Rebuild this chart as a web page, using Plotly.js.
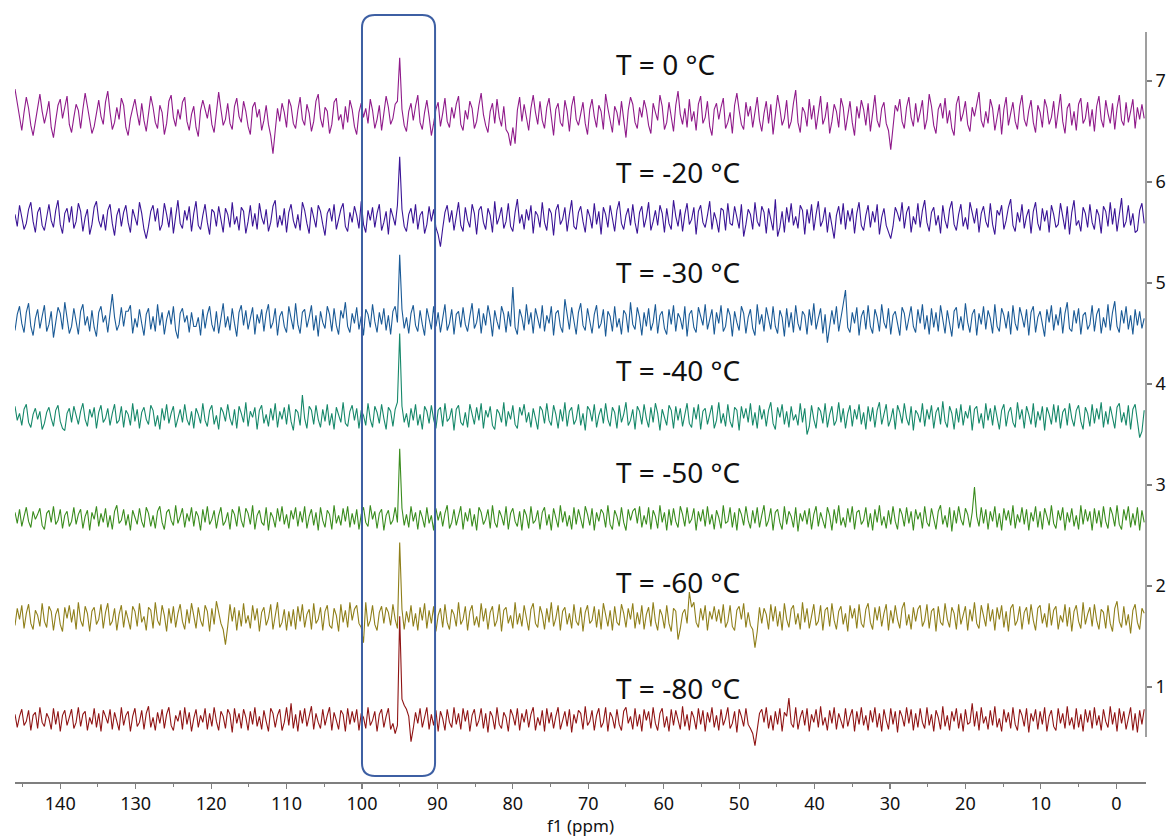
<!DOCTYPE html>
<html>
<head>
<meta charset="utf-8">
<script src="https://cdn.plot.ly/plotly-3.0.1.min.js"></script>
<style>html,body{margin:0;padding:0;background:#fff;}#chart{width:1168px;height:837px;}</style>
</head>
<body>
<div id="chart"></div>
<script>
// Chemical-shift grid (ppm): first point and step
const ppmStart = 146.0;
const ppmStep = -0.3;

// Temperature labels, stacking offsets and colours
const labels = ["T = 0 °C", "T = -20 °C", "T = -30 °C", "T = -40 °C", "T = -50 °C", "T = -60 °C", "T = -80 °C"];
const offsets = [6.66, 5.64, 4.63, 3.68, 2.67, 1.69, 0.68];
const labelY = [7.17, 6.10, 5.11, 4.14, 3.13, 2.04, 0.99];
const colors = ["#8f1a8a", "#3a1496", "#1a5a96", "#16886a", "#3a8c1e", "#8f7f1a", "#8f1414"];

// Intensities (hundredths of a y unit), 0.3 ppm apart
const t0 = [
26,12,-4,-15,3,18,7,-10,-20,-6,9,21,4,-8,2,14,-12,-22,-5,10,16,-3,8,19,-9,
-17,-2,11,5,-13,6,22,9,-6,-18,-11,4,15,-1,-9,13,24,3,-14,-7,8,-4,17,10,-12,
-20,-3,7,16,2,-10,12,-5,-16,4,19,8,-7,-13,10,3,-19,-8,14,20,-2,-11,6,-4,13,
18,-6,-15,1,9,-12,-21,5,15,7,-3,11,-9,-17,2,23,6,-10,-4,12,-8,-14,9,17,-1,
-7,14,4,-11,-19,8,13,-2,6,-15,-5,10,-9,-20,-38,-15,7,-6,12,3,-12,16,9,-8,-13,
5,18,-4,-10,11,2,-16,-6,14,21,-3,-12,8,4,-18,-9,13,17,-5,1,-14,9,-7,15,6,
-11,-19,3,12,-2,7,-8,16,5,-13,-4,10,-15,2,19,8,-9,-3,11,14,57,6,-10,-16,4,
12,-5,9,20,-7,-14,3,15,-1,-20,-8,6,13,-11,2,17,-6,-12,8,-3,11,19,-9,-15,5,
-4,14,7,-13,-6,10,22,1,-10,-17,4,12,-8,16,-2,-11,9,-14,-18,-30,-12,-28,5,18,-6,
11,-3,-15,7,20,3,-9,14,-5,-13,8,17,-2,-20,6,12,-7,-11,15,4,-16,9,19,-4,-10,
2,13,-8,-19,6,16,-1,-12,10,4,-14,21,7,-6,-17,9,3,-10,14,-4,-22,5,18,11,-7,
-13,8,-2,15,6,-10,-18,12,3,-5,20,9,-14,-7,13,-3,-16,10,24,1,-9,7,-12,16,-6,
4,-15,11,19,-8,-2,14,-11,-20,6,12,-4,8,17,-13,-7,3,-18,10,22,5,-9,-14,13,-1,
9,-12,6,18,-5,-16,2,14,-8,11,-19,4,20,7,-10,-3,15,-13,-6,12,25,-7,-17,8,3,
-11,16,-4,10,-14,5,19,-9,-2,13,-18,-6,11,4,-12,17,8,-15,2,14,-7,-20,9,-3,15,
6,-10,12,-16,1,20,-5,-12,7,13,-8,-15,-34,-9,10,4,16,-6,-13,8,18,-2,-11,12,-7,
3,15,-14,-4,21,9,-10,-18,6,12,-3,17,-8,5,-13,-20,11,19,-6,2,14,-9,-16,8,-1,
10,23,-5,-12,4,-8,16,7,-15,-3,11,-19,6,18,-10,2,13,-6,-14,9,20,-4,-11,5,15,
-7,-17,10,3,-12,16,8,-9,-2,14,-13,5,21,-6,-18,7,12,-10,4,-15,11,17,-8,-3,13,
-11,6,-16,9,19,-4,-12,15,2,-8,12,-14,7,20,-5,-10,13,-7,4,16,-13,8,-4,11,-3];

const t20 = [
4,-8,13,2,-11,-5,9,16,-3,-14,6,11,-7,-12,3,14,-2,-9,8,18,-6,-15,5,10,-4,
12,-10,-3,15,7,-13,1,9,-16,-6,11,17,-2,-9,4,-12,8,14,-5,-17,3,10,-8,6,13,
-4,-14,9,2,-7,16,5,-11,-20,-8,7,13,-3,10,-12,-6,15,4,-9,11,-15,2,18,-5,-10,
8,-2,12,-13,5,17,-7,-11,3,14,-4,-16,9,6,-8,12,-1,-14,10,4,-9,16,-6,2,-12,
11,7,-15,-3,13,-8,5,-11,15,1,-6,9,-13,-4,12,18,-9,3,-7,10,-14,6,14,-2,-10,
4,-12,16,8,-5,-15,11,2,-9,13,7,-6,-17,5,10,-3,14,-11,-1,9,15,-8,-13,6,-4,
12,3,-10,17,-6,-14,8,-2,11,-9,5,14,-12,-4,7,-16,10,2,-7,13,61,9,-8,-13,4,
10,-5,14,-11,3,7,-15,-6,12,-3,9,-9,-16,-28,-10,6,13,-4,8,-12,2,16,-7,-13,11,
-2,-9,14,5,-16,8,12,-4,-11,10,3,-14,17,-6,1,11,-10,-3,15,-8,-13,6,19,-5,4,
-11,9,-2,13,-15,7,3,-9,16,-4,-12,10,5,-17,8,14,-6,-1,11,-13,4,18,-8,-11,6,
12,-3,-14,9,2,-10,15,-6,7,-16,11,4,-9,13,-2,-13,8,17,-5,-11,3,10,-7,14,-4,
-15,6,12,-9,1,16,-12,-3,8,-7,13,5,-14,10,-5,-11,18,2,-8,9,-13,4,15,-6,-1,
11,-16,7,13,-4,-9,3,17,-11,6,-2,-14,10,8,-12,15,-5,-7,12,2,-10,14,-18,-6,9,
4,-11,16,-3,-8,12,6,-15,10,-1,-12,19,-18,-9,7,-14,11,-4,15,-7,2,-10,13,8,-16,
9,-5,14,-12,4,17,-8,-2,11,-14,6,-9,-20,3,12,-6,15,-11,8,-3,10,-15,5,16,-7,
-12,3,13,-9,7,-4,14,-16,1,10,-7,-13,-20,-8,11,5,-3,16,-10,6,12,-14,2,-6,15,
-9,8,18,-4,-13,6,11,-7,3,-15,13,-2,-10,9,17,-6,-12,4,14,-8,1,-11,16,7,-5,
10,-14,5,12,-3,-9,15,-6,-16,8,3,13,-11,-2,11,19,-7,-13,6,-4,14,-10,2,9,-15,
7,16,-5,-12,10,-3,8,-14,13,4,-9,-6,15,2,-11,12,-16,6,18,-7,-2,-13,11,5,-9,
14,-4,-11,9,3,-15,12,7,-8,16,-6,10,-13,4,20,-9,-3,13,-7,5,-14,-12,8,15,-5];

const t30 = [
-10,6,14,-3,-12,8,17,-6,-15,2,11,-8,4,15,-11,-4,9,-17,-2,13,7,-9,18,3,-13,
-6,12,-1,-14,9,16,-5,4,-11,10,-7,-16,8,14,-2,5,-12,8,26,3,-10,-4,13,-6,9,
9,15,-13,2,-7,11,-3,-15,6,12,-9,4,-11,16,-5,8,-14,1,10,-4,14,-10,-18,7,12,
-2,5,-12,8,-6,-6,3,-15,11,-8,6,14,-4,-11,9,-13,2,17,-7,4,-10,12,-3,-16,8,
15,-5,10,-9,1,13,-14,6,-3,11,-11,7,16,-8,-2,12,-15,4,9,-6,-12,14,2,-9,17,
-4,-13,8,11,-7,3,15,-10,5,-16,9,-2,-8,14,6,-11,12,-5,-14,10,2,18,-6,-12,7,
-3,13,-9,4,-15,11,6,-7,16,-1,-12,8,-4,12,-10,5,-14,9,14,-2,65,11,-8,3,-13,
7,15,-5,-11,10,-4,-15,12,3,-9,14,-6,8,-12,2,16,-10,-3,11,-14,6,9,-7,13,-4,
-11,4,17,-8,-2,12,-13,7,-5,15,3,-16,10,-1,-9,14,6,-12,9,-6,33,-7,-14,11,3,
-10,16,-4,8,-13,12,2,-8,15,-11,5,-3,14,-15,7,10,-6,-12,21,4,-9,13,-2,-14,8,
17,-5,-10,12,1,-13,6,15,-8,-3,11,-16,9,4,-11,14,-7,2,-14,10,6,-12,18,-4,-9,
13,3,-15,8,-6,12,-10,-2,16,-13,5,9,-8,-14,11,-4,15,-11,7,2,-9,14,-16,6,10,
-7,-12,13,4,-5,16,-9,1,11,-14,8,-3,15,-11,-6,12,5,-16,9,-2,-10,14,7,-13,3,
11,-8,-15,16,-4,6,-11,13,2,-9,14,-6,-13,10,3,-16,12,-7,8,-12,15,-3,-10,9,5,
-14,11,-5,17,-9,2,12,-13,6,-22,-8,10,-4,14,-11,5,16,30,-7,-12,8,-3,13,-15,4,
10,-9,15,-6,-13,11,3,-11,16,-2,-8,12,-14,5,9,-4,-15,13,7,-10,2,14,-6,-12,11,
-3,16,-9,5,-14,12,-7,8,-11,15,3,-13,10,-5,-16,9,13,-8,4,-10,17,-2,-12,6,11,
-15,7,-4,14,-9,10,2,-13,16,-6,-11,12,5,-8,9,-14,15,-3,-10,13,4,-7,11,-15,8,
14,-12,3,9,-6,-16,11,-2,15,-10,6,-5,13,-13,7,18,-8,-11,10,-3,12,-14,5,8,-9,
-4,15,-11,6,12,-13,3,-7,16,-10,8,19,-6,-12,10,-3,14,-9,5,-14,11,-5,9,-8,2];

const t40 = [
10,-4,3,-9,7,12,-6,-11,2,8,-3,5,-13,-7,4,9,-2,-10,6,11,-5,-12,-14,3,8,
-6,10,1,-8,5,13,-3,-10,7,-1,9,-12,4,11,-6,-2,8,-9,3,12,-7,-4,10,-11,6,
2,-9,13,-5,7,-12,4,9,-3,-8,11,6,-10,1,-13,8,-4,12,-7,3,10,-11,-2,7,-6,
12,-3,-9,5,-12,8,2,-7,13,-4,-10,6,11,-8,1,-13,9,4,-5,12,-2,-9,7,-12,10,
3,-6,14,-10,5,-1,9,-13,6,11,-7,2,-10,8,-4,13,-11,5,-3,9,-8,12,-5,-14,7,
4,-9,21,-2,-12,10,6,-8,11,-3,-11,7,-5,12,-9,3,-13,9,2,-6,14,-7,-10,5,11,
-4,8,-12,6,1,-9,13,-3,-11,10,4,-7,12,-2,-13,9,5,-10,7,14,82,10,-6,3,-11,
8,-4,12,-9,2,-13,10,5,-7,11,-3,-12,6,9,-10,13,-5,-2,8,-14,7,11,-6,-9,4,
-11,12,2,-8,9,-4,13,-12,6,-1,10,-9,-13,7,3,-6,14,-10,5,-3,11,-8,-12,9,1,
12,-6,4,-11,8,-2,-13,10,6,-7,13,-4,-9,11,2,-12,7,-5,14,-10,5,9,-8,-3,12,
-9,3,-14,10,6,-5,12,-11,1,8,-7,13,-3,-10,9,4,-12,11,-6,2,14,-9,-4,7,-13,
10,5,-8,12,-2,-11,9,-6,13,3,-14,7,-1,-9,11,6,-12,10,-4,8,-10,2,13,-7,-11,
9,-3,12,-13,5,8,-8,1,11,-12,-4,14,-7,3,-10,12,-5,-11,9,6,-14,10,-2,8,-6,
13,-9,4,-12,11,-3,7,-10,6,14,-7,-13,9,-1,12,-8,5,-11,10,-4,2,-9,13,-6,8,
-18,-10,11,-3,-12,9,5,-7,13,-11,2,10,-9,-4,14,-6,8,-12,3,11,-10,7,-3,12,-8,
4,-13,10,-5,9,-11,6,14,-8,1,12,-10,-3,8,-13,11,4,-7,13,-2,-9,10,-14,6,2,
-6,13,-10,7,-3,11,-12,4,9,-8,15,-5,-11,10,3,-13,8,-6,12,-9,5,-2,11,-14,7,
10,-7,3,-12,13,-4,8,-9,11,-1,-13,6,12,-10,4,9,-6,-11,14,-3,7,-12,10,2,-8,
13,-11,5,-4,10,-14,9,2,-8,12,-6,11,-12,4,8,-9,13,-2,-10,6,11,-5,-13,9,3,
-10,12,-7,8,-3,14,-11,5,-8,10,-2,-12,9,13,-6,4,-9,11,-13,7,12,-4,-21,-15,6];

const t50 = [
6,-5,9,-8,2,11,-3,-9,7,-1,4,10,-7,-11,5,8,-4,12,-6,-2,9,-10,3,7,-8,
-3,11,-6,4,9,-10,2,8,-12,6,-1,12,-8,5,-4,10,-9,3,-11,7,13,-5,-2,9,-7,
4,-12,8,1,-6,10,-3,-9,11,5,-8,3,-10,7,12,-4,-11,6,9,-2,-7,13,-5,2,10,
-9,5,-3,11,-8,7,2,-12,9,-4,12,-6,-1,8,-10,3,11,-7,-3,6,-11,9,4,-8,12,
-2,-9,10,5,-6,13,-11,3,8,-4,-7,11,-12,6,1,-9,10,-3,12,-6,4,-10,8,-1,11,
-8,7,-4,12,-10,2,9,-7,6,-12,11,-2,-9,8,4,-11,13,-5,3,-7,10,-3,12,-9,5,
-6,9,-11,4,11,-4,-8,13,-1,7,-10,5,9,-12,3,8,-6,-2,11,-4,69,10,-7,4,-9,
12,-3,6,-11,8,1,-9,11,-5,3,-12,10,-2,7,-8,5,13,-10,-4,9,-7,2,12,-11,6,
-3,10,-8,4,-12,11,6,-6,-1,9,-10,13,-4,-9,8,2,-7,12,-11,5,10,-3,-8,7,-12,
9,3,-10,12,-5,-2,8,-11,6,11,-7,4,-12,10,1,-9,13,-4,7,-8,3,-11,11,-6,9,
-1,-10,12,4,-7,10,-12,6,-3,9,5,-9,13,-6,-11,8,2,-8,11,-4,-12,9,-2,7,10,
-5,12,-9,3,-6,11,-11,8,2,-10,13,-4,6,-12,9,-7,10,-3,-9,12,4,-8,11,-5,-1,
10,-12,7,-3,9,-8,12,-6,4,-11,8,1,-10,13,-5,-3,11,-9,6,-12,10,4,-7,12,-2,
-10,8,-5,11,-9,3,13,-8,-2,10,-12,6,9,-4,-11,12,-6,7,2,-9,11,-13,5,-3,8,
-6,10,-11,4,12,-8,6,-2,-10,11,3,-12,9,-5,13,-7,1,-9,10,-4,12,-11,6,8,-6,
-2,11,-9,5,-12,9,-4,13,-7,2,-10,8,-6,12,-3,-11,10,4,-8,11,-5,7,-12,9,-1,
6,-10,12,-4,-8,10,-2,-11,7,13,-6,3,-9,11,-13,8,-5,12,-1,-7,10,4,-9,6,31,
2,-8,11,-5,9,-11,7,-3,12,-9,5,-12,10,-2,8,-7,13,-10,4,-4,11,-6,9,-12,6,
-3,12,-9,7,-11,10,2,-7,13,-5,-10,8,-2,11,-12,6,-4,10,-8,3,-11,13,-6,9,-3,
7,-12,10,-5,8,-9,12,-3,-10,11,4,-8,13,-6,-11,9,-2,12,-9,5,-7,11,-12,8,-4];

const t60 = [
-8,9,-2,12,-11,4,13,-6,-12,7,2,-9,14,-4,-10,11,6,-13,3,9,-7,-14,10,-1,12,
-5,8,-12,15,-3,-9,11,4,-14,6,10,-7,-2,13,-11,5,14,-8,-4,9,-13,3,12,-10,7,
-2,-12,11,6,-9,14,-5,1,-13,10,7,-11,15,-3,-8,12,2,-14,9,-6,11,-10,4,13,-4,
-12,8,-6,14,3,-11,10,-3,-9,12,6,-14,9,-7,16,4,-6,-12,-27,-9,13,-4,10,-13,7,
-9,14,-6,2,-11,12,-3,9,-14,5,10,-8,-1,13,-12,4,15,-10,-5,8,-13,6,-9,8,-12,
11,-4,13,-10,3,8,-12,14,-6,-2,10,-13,6,12,-8,-11,9,2,-14,13,-5,7,-10,15,-3,
8,12,-6,-10,-25,15,-9,-3,12,-7,-13,5,11,-6,10,5,-8,13,-2,-11,74,8,-12,6,-5,
12,-9,4,-13,10,-3,14,-11,7,-6,11,-14,2,9,-10,13,-5,-12,8,3,-9,15,-7,-2,11,
-13,6,12,-8,1,-10,14,-4,9,-12,5,11,-9,-3,13,-14,7,10,-6,2,-11,15,-7,4,-9,
12,-2,-13,8,14,-6,-10,11,3,-12,9,-5,15,-9,-1,12,-13,6,10,-7,4,-11,13,-4,-8,
10,-14,5,12,-6,-3,11,-10,8,-12,14,2,-9,7,-13,11,-5,-8,13,4,-10,9,-2,14,-11,
5,-7,12,-12,3,10,-9,15,-4,-13,8,2,-11,12,-6,-14,9,6,-22,-11,4,8,-6,25,10,
15,-5,-10,9,-3,12,-13,6,-2,11,-4,8,-6,13,-10,-4,12,-9,-13,7,11,-2,14,-10,5,
-8,-12,-30,-14,10,-6,9,3,-12,13,-4,11,-9,6,-13,14,-2,-10,8,12,-7,4,-12,15,-5,
9,-11,2,13,-8,-4,12,-13,7,10,-9,14,-3,-12,6,11,-7,4,-14,12,-1,9,-11,13,-6,
-10,8,14,-5,-12,10,-3,11,-9,4,13,-13,7,-6,12,-2,-11,9,15,-8,3,-12,10,-4,8,
12,-9,-3,13,-11,6,9,-14,11,-5,-8,14,-2,-10,10,4,-12,13,-7,2,11,-13,8,-4,15,
-6,-11,12,3,-9,14,-4,8,-13,10,-2,12,-10,6,-14,9,13,-8,-3,11,-12,5,10,-7,13,
-3,-13,9,12,-6,4,-10,14,-8,7,11,-12,2,-5,13,-9,10,-14,6,12,-4,-11,15,-7,3,
10,-9,13,-3,-12,8,5,-11,12,-6,-14,9,16,-4,-10,11,-8,3,-16,7,13,-5,-12,9,4];

const t80 = [
5,-8,3,10,-6,-2,9,-11,4,7,-9,12,-3,-7,6,1,-10,11,-5,8,-12,4,9,-6,2,
10,-9,-3,12,-7,5,8,-11,2,-5,11,-8,6,-12,9,3,-4,10,-10,7,-1,-11,12,-6,4,
8,-12,3,11,-7,-3,9,-10,6,13,-8,2,-11,7,-4,10,-9,5,12,-6,-11,4,-2,9,-10,
12,-5,7,-12,1,10,-8,4,-3,11,-10,6,-7,12,-2,-11,8,3,-9,10,5,-13,11,-4,6,
-9,10,2,-11,8,-5,12,-7,3,-10,9,-2,-12,11,6,-8,4,10,-11,-3,12,-6,16,-9,5,
-12,9,-4,11,-7,2,13,-10,6,-3,-9,10,-6,4,12,-11,7,-1,-10,9,5,-12,11,-5,8,
-3,10,-11,6,2,-9,12,-6,-1,8,-12,5,10,-8,3,11,-10,-4,-14,-6,102,20,14,10,3,
-22,-9,7,-4,11,-8,3,12,-10,5,-6,9,-12,8,1,-11,10,-3,-8,12,-5,6,-10,11,-2,
9,-12,4,10,-7,-1,11,-9,6,-13,8,3,-10,12,-5,-9,7,2,-12,10,4,-6,11,-11,6,
-3,10,-8,5,12,-11,2,-6,9,-12,11,-4,7,-9,3,12,-10,-2,8,-7,10,-13,5,-4,9,
6,-10,13,-6,-2,9,-11,4,11,-8,-3,12,-12,7,2,-9,10,-5,-11,8,12,-4,3,-10,11,
-7,5,-12,10,-1,8,-9,12,-4,-11,6,11,-8,3,-12,10,-6,9,-2,-10,13,-7,5,-11,8,
2,-10,11,-5,9,-12,7,-3,12,-8,4,-11,10,-6,1,12,-9,-4,8,-13,10,3,-7,11,-5,
-9,-14,-26,-10,6,10,-3,12,-9,4,-11,8,-5,11,-12,7,3,21,-4,-8,12,-10,2,9,-6,
11,-12,5,-3,10,-8,13,-6,2,-11,9,-4,12,-10,6,-2,-9,11,-7,3,10,-12,8,-5,12,
-6,4,-11,9,-3,12,-8,6,-12,10,-1,-10,11,-5,8,-13,9,3,-7,12,-4,10,-11,6,-8,
11,-3,-9,12,-6,5,-12,9,2,-10,13,-7,4,-11,8,-2,11,-9,6,-12,10,-5,-3,16,-7,
8,-11,12,-4,3,-10,9,-6,13,-8,1,-12,10,-3,7,-9,12,-5,-11,10,4,-7,11,-13,6,
-2,10,-10,8,-5,12,-12,3,9,-7,-11,11,-4,6,-9,13,-6,2,-10,11,-8,5,-12,10,-3,
9,-9,12,-6,4,-11,10,-2,-8,13,-5,7,-12,11,-4,8,-10,3,12,-11,6,-13,9,-5,10];

const spectra = [t0, t20, t30, t40, t50, t60, t80];

// axis ticks
const xTickVals = [140,130,120,110,100,90,80,70,60,50,40,30,20,10,0];
const yTickVals = [1,2,3,4,5,6,7];

const traces = spectra.map((s, k) => ({
  type: 'scatter',
  mode: 'lines',
  x0: ppmStart,
  dx: ppmStep,
  y: s.map(v => offsets[k] + v / 100),
  line: {color: colors[k], width: 1.1},
  hoverinfo: 'skip',
  showlegend: false
}));

const FONT = "'Noto Sans', 'DejaVu Sans', sans-serif";

const annotations = labels.map((t, k) => ({
  x: 66.6, y: labelY[k], xref: 'x', yref: 'y',
  text: t, showarrow: false, xanchor: 'left', yanchor: 'middle',
  font: {family: FONT, size: 28, color: '#111111'}
}));

// rounded highlight box around the 95 ppm signal (paper coords)
const bx0 = 0.3068, bx1 = 0.3714, by0 = 0.008, by1 = 1.0227, rx = 0.0115, ry = 0.0173;
const boxPath = `M ${bx0+rx},${by0} L ${bx1-rx},${by0} Q ${bx1},${by0} ${bx1},${by0+ry} ` +
  `L ${bx1},${by1-ry} Q ${bx1},${by1} ${bx1-rx},${by1} L ${bx0+rx},${by1} ` +
  `Q ${bx0},${by1} ${bx0},${by1-ry} L ${bx0},${by0+ry} Q ${bx0},${by0} ${bx0+rx},${by0} Z`;

const layout = {
  width: 1168, height: 837,
  margin: {l: 15, r: 22, t: 32, b: 55},
  paper_bgcolor: '#ffffff', plot_bgcolor: '#ffffff',
  font: {family: FONT, color: '#111111'},
  xaxis: {
    range: [146.0, -3.94], autorange: false,
    tickvals: xTickVals, ticktext: xTickVals.map(String),
    ticks: 'outside', ticklen: 5, tickwidth: 1.2, tickcolor: '#7f7f7f',
    minor: {ticks: 'outside', dtick: 5, tick0: 0, ticklen: 3, tickcolor: '#7f7f7f', tickwidth: 1},
    showline: true, linecolor: '#7f7f7f', linewidth: 1.5,
    showgrid: false, zeroline: false,
    tickfont: {family: FONT, size: 18, color: '#111111'},
    title: {text: 'f1 (ppm)', font: {family: FONT, size: 17, color: '#111111'}, standoff: 4}
  },
  yaxis: {
    side: 'right',
    range: [0.06, 7.485], autorange: false,
    tickvals: yTickVals, ticktext: yTickVals.map(String),
    ticks: 'outside', ticklen: 5, tickwidth: 1.2, tickcolor: '#7f7f7f',
    showline: false, showgrid: false, zeroline: false,
    tickfont: {family: FONT, size: 18, color: '#111111'}
  },
  shapes: [
    {type: 'line', xref: 'paper', yref: 'paper', x0: 1, x1: 1, y0: 0.0599, y1: 1,
     line: {color: '#7f7f7f', width: 1.5}},
    {type: 'path', xref: 'paper', yref: 'paper', path: boxPath,
     line: {color: '#3d5fa3', width: 2}, fillcolor: 'rgba(0,0,0,0)', layer: 'above'}
  ],
  annotations: annotations
};

Plotly.newPlot('chart', traces, layout, {displayModeBar: false, staticPlot: true});
</script>
</body>
</html>
